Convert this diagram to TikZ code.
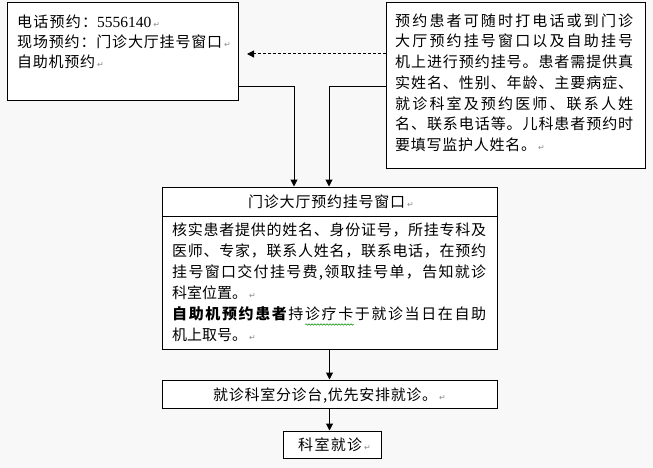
\documentclass[tikz,border=0pt]{standalone}
\usepackage{fontspec}
\setmainfont{Liberation Serif}
\newfontfamily\cjk{Noto Sans CJK SC}
\newfontfamily\djvu{DejaVu Sans}
\newfontfamily\lser{Liberation Serif}
\usetikzlibrary{arrows.meta,decorations.pathmorphing}
\definecolor{bg}{HTML}{F8F8F8}
\newcommand\jline[2]{\makebox[#1][s]{\jfirst#2\relax}}
\def\jfirst#1{#1\jrest}
\def\jrest#1{\ifx\relax#1\else\ifx\mdseries#1\else\hfil\fi#1\expandafter\jrest\fi}
\newcommand\ret{\hspace{2pt}{\djvu\fontsize{8}{8}\selectfont\color{black!45}↵}}
\tikzset{
  box/.style={draw, line width=1pt, fill=white, inner sep=0pt},
  txt/.style={anchor=west, inner sep=0pt, text height=13.2pt, text depth=1.8pt,
    font=\cjk\fontsize{15}{18}\selectfont},
  arr/.style={line width=1pt, -{Triangle[length=7pt,width=7pt]}},
  darr/.style={arr, dash pattern=on 3pt off 2pt},
  wavy/.style={draw=green!55!black, line width=0.5pt, decorate,
    decoration={snake, amplitude=0.8pt, segment length=3pt}},
}
\begin{document}
\begin{tikzpicture}[x=1pt,y=-1pt]
\useasboundingbox (0,0) rectangle (653,468);
\fill[bg] (0,0) rectangle (653,468);

% boxes
\node[box, minimum width=231pt, minimum height=98pt] (phone) at (122.5,52) {};
\node[box, minimum width=259pt, minimum height=165pt] (info) at (515.5,85.5) {};
\node[box, minimum width=335pt, minimum height=162pt] (hall) at (329.5,268) {};
\node[box, minimum width=335pt, minimum height=28pt] (triage) at (329.5,394) {};
\node[box, minimum width=98pt, minimum height=27pt] (visit) at (332,444.5) {};

% header separator
\coordinate (sep) at (0,216);
\draw[line width=1pt] (hall.west |- sep) -- (hall.east |- sep);

% connectors
\coordinate (dashEnd) at (247,54);
\coordinate (j1) at (294,87);
\coordinate (j2) at (329,87);
\draw[darr] (info.west |- dashEnd) -- (dashEnd);
\draw[arr] (phone.east |- j1) -- (j1) -- (hall.north -| j1);
\draw[arr] (info.west |- j2) -- (j2) -- (hall.north -| j2);
\draw[arr] (hall.south) -- (triage.north);
\draw[arr] (triage.south) -- (triage.south |- visit.north);

% left box text
\node[txt] (p1) at (17,22) {\jline{80pt}{电话预约：}{\lser\fontsize{15.5}{18}\selectfont 5556140}\ret};
\node[txt] (p2) at (17,42) {\jline{205pt}{现场预约：门诊大厅挂号窗口}\ret};
\node[txt] (p3) at (17,62) {\jline{78pt}{自助机预约}\ret};

% right box text
\node[txt] (r1) at (395,20.5) {\jline{238pt}{预约患者可随时打电话或到门诊}};
\node[txt] (r2) at (395,41.25) {\jline{238pt}{大厅预约挂号窗口以及自助挂号}};
\node[txt] (r3) at (395,62) {\jline{238pt}{机上进行预约挂号。患者需提供真}};
\node[txt] (r4) at (395,82.75) {\jline{238pt}{实姓名、性别、年龄、主要病症、}};
\node[txt] (r5) at (395,103.5) {\jline{238pt}{就诊科室及预约医师、联系人姓}};
\node[txt] (r6) at (395,124.25) {\jline{238pt}{名、联系电话等。儿科患者预约时}};
\node[txt] (r7) at (395,145) {\jline{141pt}{要填写监护人姓名。}\ret};

% middle box text
\node[txt] (m0) at (248,201.5) {\jline{157pt}{门诊大厅预约挂号窗口}\ret};
\node[txt] (m1) at (172,229.5) {\jline{314pt}{核实患者提供的姓名、身份证号，所挂专科及}};
\node[txt] (m2) at (172,250.6) {\jline{314pt}{医师、专家，联系人姓名，联系电话，在预约}};
\node[txt] (m3) at (172,271.7) {\jline{314pt}{挂号窗口交付挂号费,领取挂号单，告知就诊}};
\node[txt] (m4) at (172,292.8) {科室位置。\ret};
\node[txt] (m5) at (172,313.9) {{\bfseries\jline{314pt}{自助机预约患者\mdseries 持诊疗卡于就诊当日在自助}}};
\node[txt] (m6) at (172,335) {机上取号。\ret};
\draw[wavy] (305,324.5) -- (354,324.5);

% lower boxes text
\node[txt] (t1) at (213,395) {\jline{224pt}{就诊科室分诊台,优先安排就诊。}\ret};
\node[txt] (v1) at (298,445) {\jline{64pt}{科室就诊}\ret};
\end{tikzpicture}
\end{document}
